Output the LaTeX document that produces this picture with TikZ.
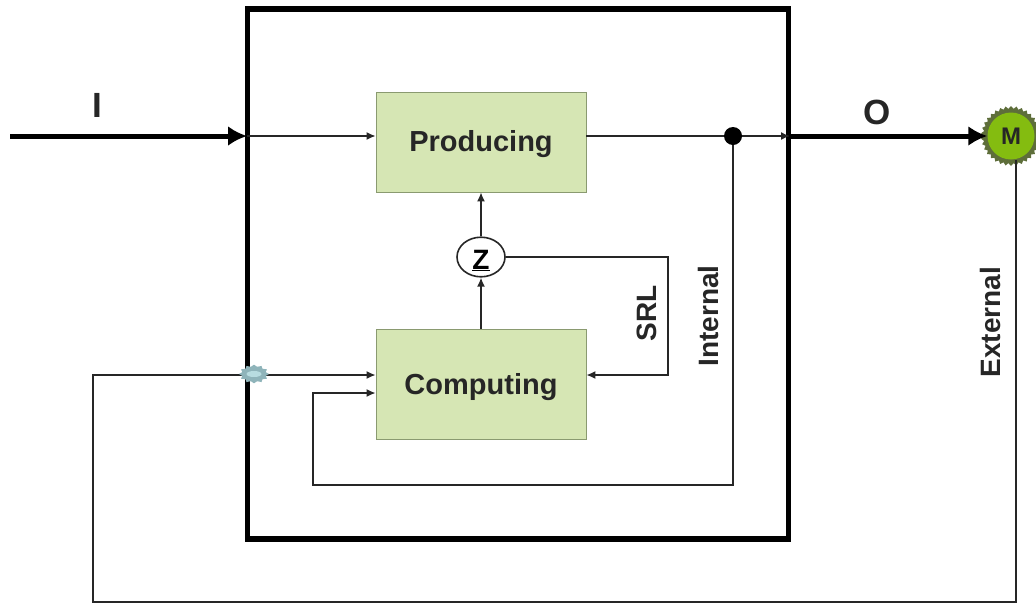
\documentclass[tikz,border=0pt]{standalone}
\usepackage{fontspec}
\setmainfont{Liberation Sans}
\usetikzlibrary{arrows.meta,shapes.geometric,calc}
\definecolor{boxfill}{HTML}{D6E6B4}
\definecolor{boxline}{HTML}{8A9A70}
\definecolor{mgreen}{HTML}{84BC10}
\definecolor{mteeth}{HTML}{5E6E3A}
\definecolor{sw}{HTML}{8FB4BA}
\definecolor{swin}{HTML}{B8DCE0}
\tikzset{
 x=1pt,y=-1pt,
 procbox/.style={draw=boxline,line width=0.7pt,fill=boxfill,minimum width=210pt,minimum height=100pt,inner sep=0pt,text=black!85,font=\bfseries\fontsize{29}{33}\selectfont},
 thin conn/.style={draw=black!85,line width=1.6pt,-{Latex[length=9pt,width=8pt]}},
 plain conn/.style={draw=black!85,line width=1.6pt},
 thick conn/.style={draw=black,line width=5pt,-{Latex[length=19pt,width=20pt]}},
 lab/.style={font=\bfseries\fontsize{35}{39}\selectfont,text=black!85,inner sep=0pt},
 vlab/.style={font=\bfseries\fontsize{28}{32}\selectfont,text=black!85,inner sep=0pt,rotate=90},
}
\begin{document}
\begin{tikzpicture}
\useasboundingbox (0,0) rectangle (1036,606);
\node[draw=black,line width=5.5pt,minimum width=541pt,minimum height=530pt,inner sep=0pt] (sys) at (518,274) {};
\node[procbox] (prod) at (481,142) {\rule{0pt}{26pt}Producing};
\node[procbox,minimum height=110pt] (comp) at (481,384) {\rule{0pt}{27pt}Computing};
\node[draw=black!85,fill=white,line width=1.6pt,ellipse,minimum width=48pt,minimum height=35pt,inner sep=0pt,font=\bfseries\fontsize{28}{32}\selectfont] (z) at (481,257) {\rule{0pt}{26pt}\underline{Z}};
\node[circle,fill=black,minimum size=18pt,inner sep=0pt] (dot) at (733,136) {};
\node[star,star points=34,star point ratio=1.1,fill=mteeth,minimum size=60pt,inner sep=0pt] (gear) at (1011,136) {};
\node[circle,fill=mgreen,minimum size=47pt,inner sep=0pt,text=black!85,font=\bfseries\fontsize{24}{28}\selectfont] (m) at (1011,136) {M};
\coordinate (in) at (10,136);
\coordinate (sysL) at (247,136);
\coordinate (sysR) at (790,136);
\coordinate (mout) at (1016,160);
\draw[thick conn] (in) -- (sysL);
\draw[thin conn] (sysL) -- (prod.west |- sysL);
\draw[plain conn] (prod.east |- dot) -- (dot);
\draw[thin conn] (dot) -- (sysR);
\draw[thick conn] (sysR) -- (m.west);
\draw[thin conn] (comp.north) -- (z.south);
\draw[thin conn] (z.north) -- (prod.south);
\draw[thin conn] (z.east) -- (668,257) -- (668,375) -- (comp.east |- 0,375);
\draw[thin conn] (dot) -- (733,485) -- (313,485) -- (313,393) -- (comp.west |- 0,393);
\draw[thin conn] (mout) -- (1016,602) -- (93,602) -- (93,375) -- (comp.west |- 0,375);
\node[star,star points=12,star point ratio=1.25,fill=sw,minimum size=30pt,inner sep=0pt,yscale=0.62] (sw) at (254,374) {};
\node[ellipse,fill=swin,minimum width=15pt,minimum height=6pt,inner sep=0pt] (swi) at (254,374) {};
\node[lab] (i) at (97,105) {I};
\node[lab] (o) at (877,112) {O};
\node[vlab] (srl) at (647,313) {SRL};
\node[vlab] (int) at (708,316) {Internal};
\node[vlab] (ext) at (990,322) {External};
\end{tikzpicture}
\end{document}
